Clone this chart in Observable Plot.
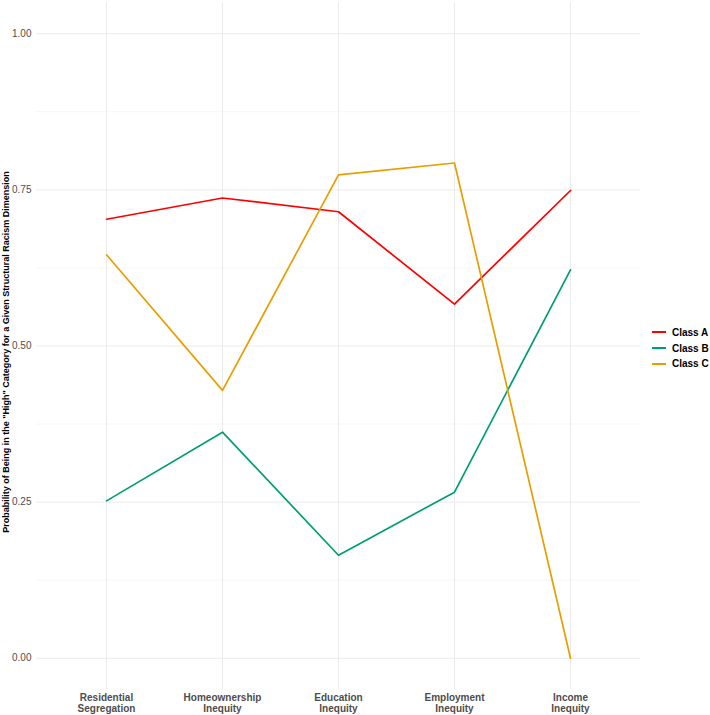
<!DOCTYPE html>
<html><head><meta charset="utf-8">
<script src="https://cdn.jsdelivr.net/npm/d3@7"></script>
<script src="https://cdn.jsdelivr.net/npm/@observablehq/plot@0.6"></script>
<style>
body{margin:0;background:#fff;font-family:"Liberation Sans",Arial,sans-serif;}
#wrap{position:relative;width:710px;height:715px;}
#legend{position:absolute;left:652px;top:324.5px;font-size:10px;font-weight:bold;color:#000;}
.item{display:flex;align-items:center;height:15.7px;}
.sw{display:inline-block;width:14px;height:2px;margin-right:6px;}
</style></head><body><div id="wrap"></div>
<script>
const categories = ["Residential Segregation","Homeownership Inequity","Education Inequity","Employment Inequity","Income Inequity"];
const tickLabels = ["Residential\nSegregation","Homeownership\nInequity","Education\nInequity","Employment\nInequity","Income\nInequity"];
const classes = ["Class A","Class B","Class C"];
const classA = [0.703,0.737,0.715,0.567,0.749];
const classB = [0.252,0.362,0.165,0.266,0.622];
const classC = [0.646,0.429,0.774,0.793,0.0];
const colors = ["#FF0000","#009E73","#E69F00"];
const yTicks = [0,0.25,0.5,0.75,1];
const yMinor = [0.125,0.375,0.625,0.875];
const yTitle = "Probability of Being in the \"High\" Category for a Given Structural Racism Dimension";

const series = [classA, classB, classC];
const data = [];
classes.forEach((c, k) => categories.forEach((cat, i) => data.push({cls: c, category: cat, value: series[k][i]})));
const labelOf = new Map(categories.map((c, i) => [c, tickLabels[i]]));

const chart = Plot.plot({
  width: 710,
  height: 715,
  marginLeft: 36,
  marginRight: 70,
  marginTop: 2,
  marginBottom: 26,
  style: {fontFamily: "'Liberation Sans', Arial, sans-serif", background: "#fff"},
  x: {type: "point", domain: categories, padding: 0.6, axis: null},
  y: {domain: [-0.05, 1.05], axis: null},
  color: {domain: classes, range: colors},
  marks: [
    Plot.gridY(yMinor, {stroke: "#F2F2F2", strokeOpacity: 1, strokeWidth: 0.8}),
    Plot.gridY(yTicks, {stroke: "#EBEBEB", strokeOpacity: 1, strokeWidth: 1}),
    Plot.gridX(categories, {stroke: "#EBEBEB", strokeOpacity: 1, strokeWidth: 1}),
    Plot.axisY(yTicks, {tickSize: 0, tickPadding: 5, tickFormat: d3.format(".2f"), fill: "#4D4D4D", fontSize: 10, label: null}),
    Plot.axisX(categories, {tickSize: 0, tickPadding: 3, tickFormat: d => labelOf.get(d), fill: "#4D4D4D", fontSize: 10, fontWeight: "bold", lineHeight: 1.15, label: null}),
    Plot.text([yTitle], {frameAnchor: "left", rotate: -90, dx: -30, dy: 6, fontWeight: "bold", fontSize: 9, fill: "#000", textAnchor: "middle"}),
    Plot.line(data, {x: "category", y: "value", z: "cls", stroke: "cls", strokeWidth: 1.7})
  ]
});
const wrap = document.getElementById("wrap");
wrap.appendChild(chart);
const legend = document.createElement("div");
legend.id = "legend";
classes.forEach((c, i) => {
  const it = document.createElement("div");
  it.className = "item";
  const sw = document.createElement("span");
  sw.className = "sw";
  sw.style.background = colors[i];
  it.appendChild(sw);
  it.appendChild(document.createTextNode(c));
  legend.appendChild(it);
});
wrap.appendChild(legend);
</script></body></html>
